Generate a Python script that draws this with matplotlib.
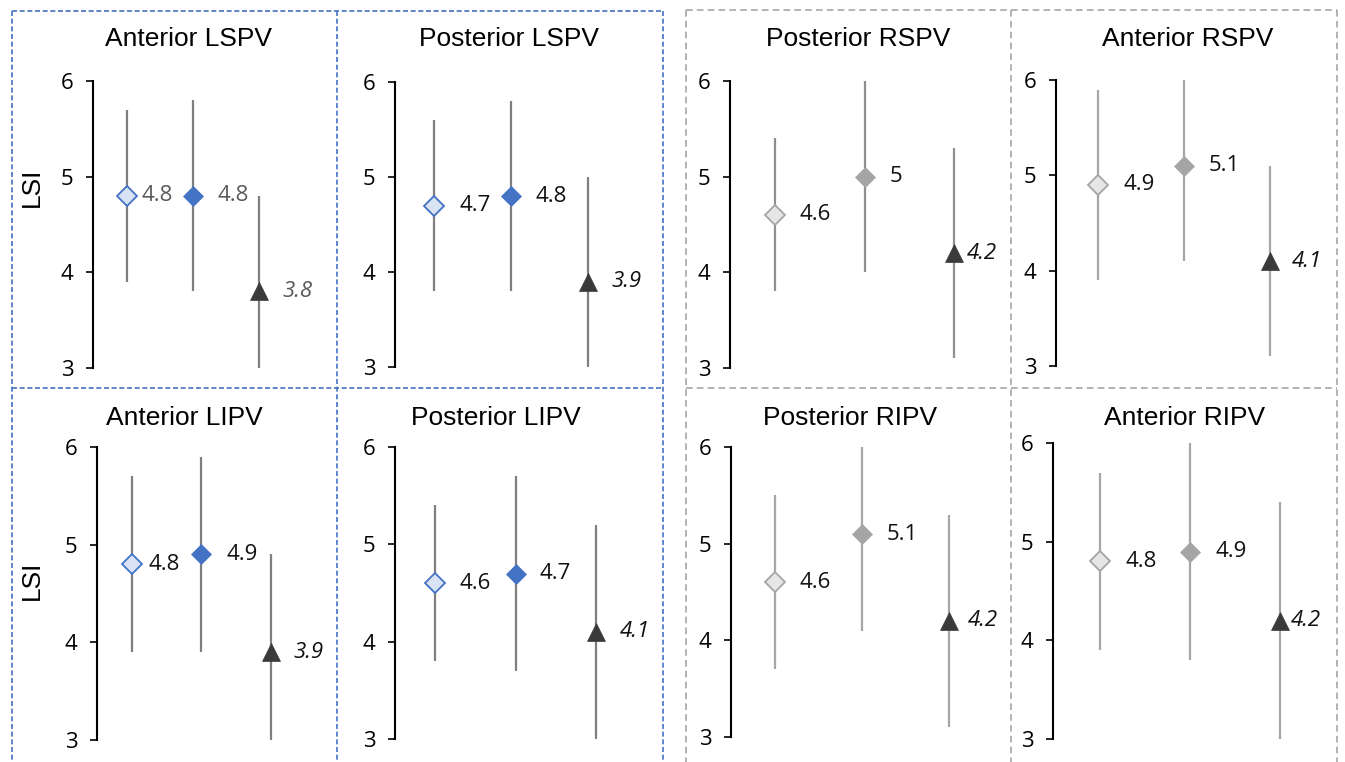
import matplotlib
matplotlib.use("Agg")
import matplotlib.pyplot as plt
from matplotlib.lines import Line2D

# ---------------- data ----------------
panel_titles = ["Anterior LSPV", "Posterior LSPV", "Posterior RSPV", "Anterior RSPV",
                "Anterior LIPV", "Posterior LIPV", "Posterior RIPV", "Anterior RIPV"]
series_names = ["open", "filled", "triangle"]
mean_values = [[4.8, 4.8, 3.8], [4.7, 4.8, 3.9], [4.6, 5.0, 4.2], [4.9, 5.1, 4.1],
               [4.8, 4.9, 3.9], [4.6, 4.7, 4.1], [4.6, 5.1, 4.2], [4.8, 4.9, 4.2]]
low_values = [[3.9, 3.8, 3.0], [3.8, 3.8, 3.0], [3.8, 4.0, 3.1], [3.9, 4.1, 3.1],
              [3.9, 3.9, 3.0], [3.8, 3.7, 3.0], [3.7, 4.1, 3.1], [3.9, 3.8, 3.0]]
high_values = [[5.7, 5.8, 4.8], [5.6, 5.8, 5.0], [5.4, 6.0, 5.3], [5.9, 6.0, 5.1],
               [5.7, 5.9, 4.9], [5.4, 5.7, 5.2], [5.5, 6.0, 5.3], [5.7, 6.0, 5.4]]
y_ticks = [3, 4, 5, 6]
y_label = "LSI"

# ---------------- layout (pixels) ----------------
W, H = 1345, 762
# spine_x, first_point_x, spacing, y_top(6), y_bottom(3), right_edge
layout = [(93, 127, 66, 81, 368, 330), (395, 434, 77, 82, 367, 660),
          (730, 775, 89.5, 81, 368, 1005), (1056, 1098, 86, 80, 366, 1330),
          (97, 131.5, 69.75, 447, 740, 330), (395, 435, 80.5, 447, 739, 660),
          (731, 775, 87, 447, 737, 1005), (1053, 1100, 90, 443, 739, 1330)]
title_pos = [(189, 39), (509, 39), (858, 39), (1188, 39),
             (184, 418), (496, 418), (850, 418), (1185, 418)]
label_dx = [(15, 25, 24), (25, 25, 24), (24, 25, 13), (25, 25, 22),
            (17, 25, 23), (25, 24, 24), (24, 25, 19), (25, 25, 11)]
blue_panels = {0, 1, 4, 5}

BLUE = "#4472C4"
BLUE_LIGHT = "#DAE3F3"
GRAY = "#A5A5A5"
GRAY_LIGHT = "#E7E6E6"
DARK = "#3A3A3A"

NUM_FONT = ["Open Sans", "DejaVu Sans"]
TITLE_FONT = ["Liberation Sans", "DejaVu Sans"]

fig = plt.figure(figsize=(W / 100, H / 100), dpi=100)

for i, title in enumerate(panel_titles):
    spine, p0, sp, ytop, ybot, right = layout[i]
    ax = fig.add_axes([spine / W, 1 - ybot / H, (right - spine) / W, (ybot - ytop) / H])
    ax.set_xlim((spine - p0) / sp, (right - p0) / sp)
    ax.set_ylim(3, 6)
    ax.patch.set_alpha(0)
    for s in ["top", "right", "bottom"]:
        ax.spines[s].set_visible(False)
    ax.spines["left"].set_linewidth(1.5)
    ax.spines["left"].set_color("black")
    ax.set_xticks([])
    ax.set_yticks(y_ticks)
    ax.set_yticklabels([str(t) for t in y_ticks], fontfamily=NUM_FONT)
    ax.tick_params(axis="y", length=5, width=1.2, pad=9, labelsize=16, colors="black")

    blue = i in blue_panels
    if blue:
        err_col = "#7F7F7F"
        styles = [dict(marker="D", ms=10, mfc=BLUE_LIGHT, mec=BLUE, mew=1.3),
                  dict(marker="D", ms=10.5, mfc=BLUE, mec=BLUE, mew=0.5),
                  dict(marker="^", ms=13, mfc=DARK, mec=DARK, mew=0.5)]
    else:
        err_col = "#8F8F8F" if i == 2 else "#A6A6A6"
        styles = [dict(marker="D", ms=10, mfc=GRAY_LIGHT, mec=GRAY, mew=1.3),
                  dict(marker="D", ms=10.5, mfc=GRAY, mec=GRAY, mew=0.5),
                  dict(marker="^", ms=13, mfc=DARK, mec=DARK, mew=0.5)]
    txt_col = "#595959" if i == 0 else "#111111"

    xs = list(range(len(series_names)))
    ax.vlines(xs, low_values[i], high_values[i], colors=err_col, linewidth=1.6,
              clip_on=False, zorder=2)
    for j, x in enumerate(xs):
        m = mean_values[i][j]
        ax.plot([x], [m], linestyle="none", clip_on=False, zorder=3, **styles[j])
        ax.annotate(f"{m:g}", xy=(x, m), xytext=(label_dx[i][j] * 0.72, 0),
                    textcoords="offset points", ha="left", va="center",
                    fontsize=16, color=txt_col, fontfamily=NUM_FONT,
                    fontstyle="italic" if j == 2 else "normal")

    tx, ty = title_pos[i]
    fig.text(tx / W, 1 - ty / H, title, ha="center", va="center",
             fontsize=19, fontfamily=TITLE_FONT, color="black")

# y-axis labels on first column
for (lx, ly) in [(32, 187), (32, 580)]:
    fig.text(lx / W, 1 - ly / H, y_label, rotation=90, ha="center", va="center",
             fontsize=19, fontfamily=TITLE_FONT, color="black")

# dashed group borders
def hline(x0, x1, y, color, dashes):
    fig.add_artist(Line2D([x0 / W, x1 / W], [1 - y / H, 1 - y / H], transform=fig.transFigure,
                          color=color, linewidth=1.2, dashes=dashes))

def vline(x, y0, y1, color, dashes):
    fig.add_artist(Line2D([x / W, x / W], [1 - y0 / H, 1 - y1 / H], transform=fig.transFigure,
                          color=color, linewidth=1.2, dashes=dashes))

bd = (3.0, 1.6)
hline(12, 663, 11, BLUE, bd)
hline(12, 663, 388, BLUE, bd)
vline(12, 11, 762, BLUE, bd)
vline(337, 11, 762, BLUE, bd)
vline(663, 11, 762, BLUE, bd)

gd = (4.0, 2.5)
gc = "#A6A6A6"
hline(686, 1337, 10, gc, gd)
hline(686, 1337, 388, gc, gd)
vline(686, 10, 762, gc, gd)
vline(1011, 10, 762, gc, gd)
vline(1337, 10, 762, gc, gd)

fig.savefig("out.png", dpi=100)
